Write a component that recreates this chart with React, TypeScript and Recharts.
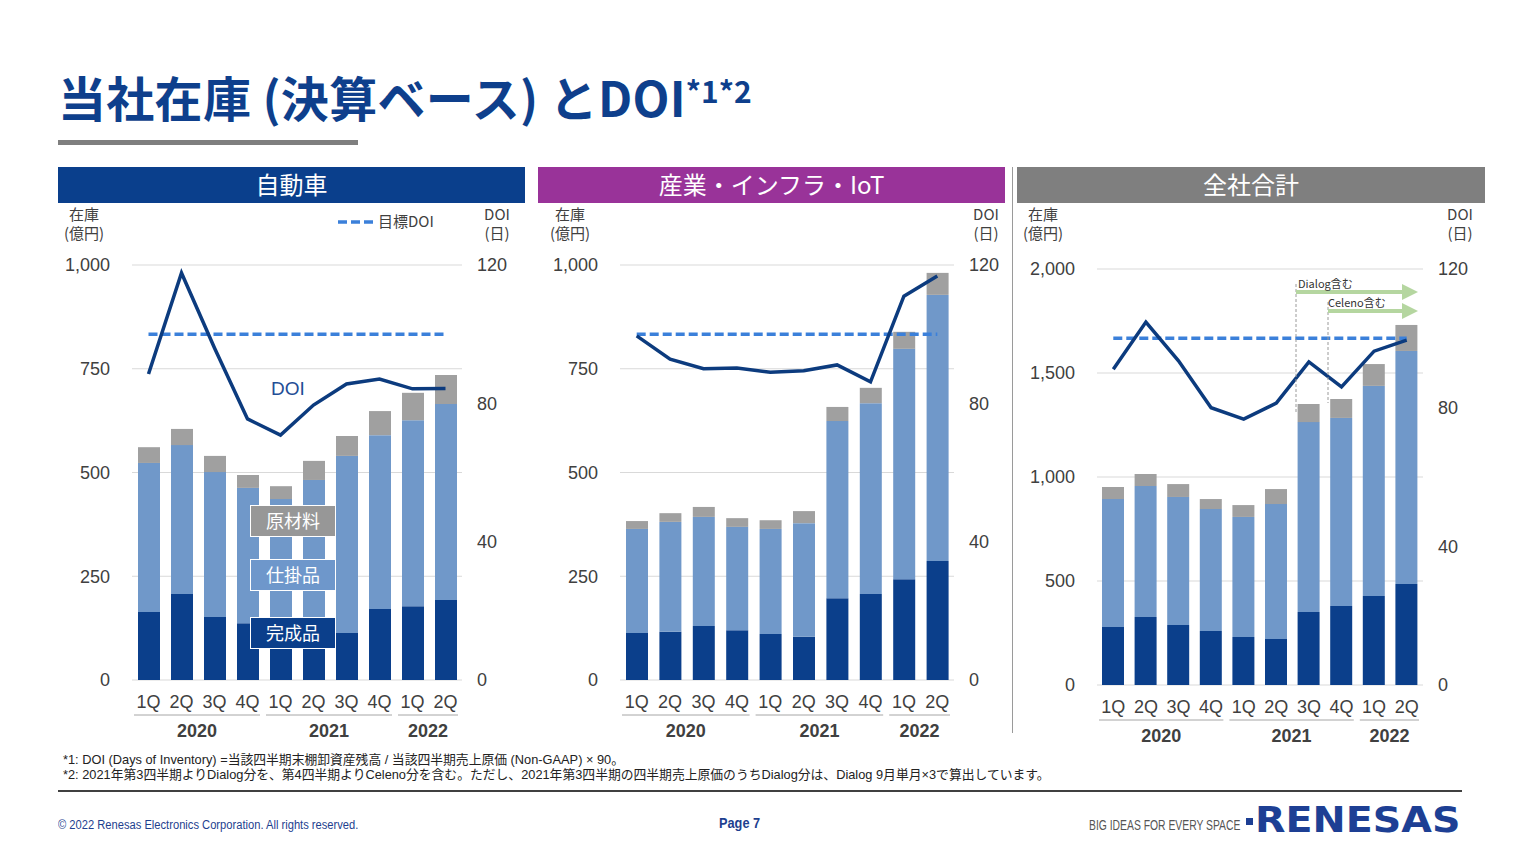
import React from 'react';
import { ComposedChart, Bar, Line, XAxis, YAxis, CartesianGrid } from 'recharts';

// ---------- data ----------
const quarters = ['1Q', '2Q', '3Q', '4Q', '1Q', '2Q', '3Q', '4Q', '1Q', '2Q'];
const years = ['2020', '2020', '2020', '2020', '2021', '2021', '2021', '2021', '2022', '2022'];
const TARGET_DOI = 100;

const autoFinished = [164, 207, 152, 137, 120, 117, 113, 171, 178, 193];
const autoWip = [359, 359, 349, 326, 316, 365, 427, 419, 448, 472];
const autoRaw = [38, 39, 39, 31, 31, 46, 48, 58, 66, 70];
const autoDoi = [88.5, 117.7, 96, 75.5, 70.8, 79.5, 85.6, 87, 84.2, 84.3];

const indFinished = [113, 116, 130, 120, 111, 104, 197, 207, 243, 287];
const indWip = [251, 265, 263, 249, 253, 274, 427, 460, 555, 641];
const indRaw = [19, 21, 24, 21, 21, 29, 34, 37, 41, 53];
const indDoi = [99.5, 92.8, 90, 90.2, 89, 89.4, 91.1, 86.2, 111, 116.8];

const totFinished = [279, 327, 288, 260, 231, 221, 351, 380, 428, 486];
const totWip = [615, 630, 616, 586, 577, 649, 913, 904, 1010, 1120];
const totRaw = [58, 57, 62, 48, 57, 72, 87, 91, 105, 125];
const totDoi = [91.1, 104.7, 93.5, 80, 76.7, 81.3, 93.2, 86, 96.3, 99.5];

const leftTicks1000 = [0, 250, 500, 750, 1000];
const leftTicks2000 = [0, 500, 1000, 1500, 2000];
const rightTicks = [0, 40, 80, 120];

const build = (fin: number[], wip: number[], raw: number[], doi: number[]) =>
  quarters.map((q, i) => ({
    key: `${years[i]}-${q}`,
    finished: fin[i],
    wip: wip[i],
    raw: raw[i],
    doi: doi[i],
    target: TARGET_DOI,
  }));

// ---------- styles ----------
const C_FIN = '#0b3f8b';
const C_WIP = '#7098c9';
const C_RAW = '#a0a0a0';
const C_DOI = '#0c3b7e';
const C_TGT = '#3b80da';
const TXT = '#404040';
const NUM_FONT = '"Liberation Sans", Arial, sans-serif';
const JP_FONT = '"Noto Sans CJK JP", "Liberation Sans", sans-serif';
const MIX_FONT = '"Liberation Sans", "Noto Sans CJK JP", sans-serif';

const fmt = (v: number) => v.toLocaleString('en-US');

const makeTick = (band: number, qDy: number, lineDy: number, yearDy: number) => (props: any) => {
  const { x, y, index } = props;
  const i = index;
  const yr = years[i];
  const first = i === 0 || years[i - 1] !== yr;
  let group: React.ReactNode = null;
  if (first) {
    let n = 0;
    while (i + n < years.length && years[i + n] === yr) n++;
    const x1 = x - band / 2 + 2;
    const x2 = x - band / 2 + n * band - 4;
    group = (
      <g>
        <line x1={x1} x2={x2} y1={y + lineDy} y2={y + lineDy} stroke="#a6a6a6" strokeWidth={1} />
        <text x={(x1 + x2) / 2} y={y + yearDy} dy="0.35em" textAnchor="middle" fill={TXT}
          fontSize={18} fontWeight="bold" fontFamily={NUM_FONT}>{yr}</text>
      </g>
    );
  }
  return (
    <g>
      <text x={x} y={y + qDy} dy="0.35em" textAnchor="middle" fill={TXT} fontSize={18} fontFamily={NUM_FONT}>
        {quarters[i]}
      </text>
      {group}
    </g>
  );
};

type PanelProps = {
  left: number; top: number; width: number; height: number;
  data: any[]; leftMax: number; leftTicks: number[];
};

const LEFT_W = 82;
const RIGHT_W = 50;
const X_H = 65;

function Panel({ left, top, width, height, data, leftMax, leftTicks }: PanelProps) {
  const plotW = width - LEFT_W - RIGHT_W;
  const band = plotW / data.length;
  return (
    <div style={{ position: 'absolute', left, top }}>
      <ComposedChart width={width} height={height} data={data}
        margin={{ top: 20, right: 0, left: 0, bottom: 10 }}>
        <CartesianGrid yAxisId="l" vertical={false} stroke="#d9d9d9" />
        <XAxis dataKey="key" interval={0} axisLine={false} tickLine={false} tickSize={0} tickMargin={0}
          height={X_H} tick={makeTick(band, 22, 35, 51)} />
        <YAxis yAxisId="l" orientation="left" width={LEFT_W} domain={[0, leftMax]} ticks={leftTicks}
          axisLine={false} tickLine={false} tickSize={0} tickMargin={22} tickFormatter={fmt}
          tick={{ fill: TXT, fontSize: 18, fontFamily: NUM_FONT }} allowDataOverflow />
        <YAxis yAxisId="r" orientation="right" width={RIGHT_W} domain={[0, 120]} ticks={rightTicks}
          axisLine={false} tickLine={false} tickSize={0} tickMargin={15}
          tick={{ fill: TXT, fontSize: 18, fontFamily: NUM_FONT }} allowDataOverflow />
        <Bar yAxisId="l" dataKey="finished" stackId="s" fill={C_FIN} barSize={22} isAnimationActive={false} />
        <Bar yAxisId="l" dataKey="wip" stackId="s" fill={C_WIP} barSize={22} isAnimationActive={false} />
        <Bar yAxisId="l" dataKey="raw" stackId="s" fill={C_RAW} barSize={22} isAnimationActive={false} />
        <Line yAxisId="r" dataKey="target" stroke={C_TGT} strokeWidth={3.5} strokeDasharray="9 4"
          dot={false} activeDot={false} isAnimationActive={false} />
        <Line yAxisId="r" dataKey="doi" type="linear" stroke={C_DOI} strokeWidth={3.5}
          dot={false} activeDot={false} isAnimationActive={false} />
      </ComposedChart>
    </div>
  );
}

const abs = (l: number, t: number, extra: React.CSSProperties = {}): React.CSSProperties => ({
  position: 'absolute', left: l, top: t, ...extra,
});

function Header({ left, width, color, label }: { left: number; width: number; color: string; label: string }) {
  return (
    <div style={abs(left, 167, {
      width, height: 36, background: color, color: '#fff', fontFamily: JP_FONT,
      fontSize: 24, lineHeight: '33px', textAlign: 'center',
    })}>{label}</div>
  );
}

function Units({ cx, top, l1, l2 }: { cx: number; top: number; l1: string; l2: string }) {
  return (
    <div style={abs(cx - 40, top, {
      width: 80, textAlign: 'center', fontFamily: JP_FONT, fontSize: 15, lineHeight: '19px', color: TXT,
    })}>
      <div>{l1}</div>
      <div>{l2}</div>
    </div>
  );
}

function LegendBox({ top, color, label }: { top: number; color: string; label: string }) {
  return (
    <div style={abs(250, top, {
      width: 86, height: 32, boxSizing: 'border-box', background: color, border: '1.5px solid #fff',
      color: '#fff', fontFamily: JP_FONT, fontSize: 18, lineHeight: '29px', textAlign: 'center',
    })}>{label}</div>
  );
}

export default function App() {
  const autoData = build(autoFinished, autoWip, autoRaw, autoDoi);
  const indData = build(indFinished, indWip, indRaw, indDoi);
  const totData = build(totFinished, totWip, totRaw, totDoi);

  const narrow = '"Liberation Sans", Arial, sans-serif';
  const noteStyle: React.CSSProperties = {
    fontFamily: MIX_FONT, fontSize: 12.8, lineHeight: '14px', color: '#222', whiteSpace: 'nowrap',
  };

  return (
    <div style={{ position: 'absolute', left: 0, top: 0, width: 1521, height: 855, background: '#fff', overflow: 'hidden' }}>
      {/* Title */}
      <div style={abs(58, 66, {
        fontFamily: JP_FONT, fontWeight: 'bold', fontSize: 48, lineHeight: '60px', color: '#0e3f8c',
        whiteSpace: 'nowrap', letterSpacing: 0.3,
      })}>
        当社在庫 (決算ベース) とDOI<span style={{ fontSize: 30, verticalAlign: 'top', position: 'relative', top: -6, letterSpacing: 0 }}>*1*2</span>
      </div>
      <div style={abs(58, 140, { width: 300, height: 5, background: '#7f7f7f' })} />

      {/* Headers */}
      <Header left={58} width={467} color="#0a3f8c" label="自動車" />
      <Header left={538} width={467} color="#993399" label="産業・インフラ・IoT" />
      <Header left={1017} width={468} color="#7f7f7f" label="全社合計" />

      {/* separator */}
      <div style={abs(1012, 167, { width: 1, height: 566, background: '#9a9a9a' })} />

      {/* Units */}
      <Units cx={84} top={204} l1="在庫" l2="(億円)" />
      <Units cx={497} top={204} l1="DOI" l2="(日)" />
      <Units cx={570} top={204} l1="在庫" l2="(億円)" />
      <Units cx={986} top={204} l1="DOI" l2="(日)" />
      <Units cx={1043} top={204} l1="在庫" l2="(億円)" />
      <Units cx={1460} top={204} l1="DOI" l2="(日)" />

      {/* Target legend */}
      <svg style={abs(336, 214)} width={40} height={16}>
        <line x1={2} x2={38} y1={8} y2={8} stroke={C_TGT} strokeWidth={3.5} strokeDasharray="9 4" />
      </svg>
      <div style={abs(378, 211, { fontFamily: JP_FONT, fontSize: 15, lineHeight: '20px', color: TXT })}>目標DOI</div>

      {/* Charts */}
      <Panel left={50} top={245} width={462} height={510} data={autoData} leftMax={1000} leftTicks={leftTicks1000} />
      <Panel left={538} top={245} width={466} height={510} data={indData} leftMax={1000} leftTicks={leftTicks1000} />
      <Panel left={1015} top={249} width={458} height={511} data={totData} leftMax={2000} leftTicks={leftTicks2000} />

      {/* DOI label */}
      <div style={abs(271, 377, { fontFamily: NUM_FONT, fontSize: 19, lineHeight: '24px', color: '#1f4e96' })}>DOI</div>

      {/* Legend boxes */}
      <LegendBox top={505} color="#979797" label="原材料" />
      <LegendBox top={559} color="#6e97cb" label="仕掛品" />
      <LegendBox top={617} color={C_FIN} label="完成品" />

      {/* Dialog / Celeno annotations */}
      <svg style={abs(1280, 270)} width={160} height={150}>
        <defs>
          <marker id="ah" markerWidth="4" markerHeight="4" refX="2" refY="2" orient="auto" markerUnits="strokeWidth">
            <path d="M0,0 L4,2 L0,4 Z" fill="#b5d6a0" />
          </marker>
        </defs>
        <line x1={16} x2={16} y1={14} y2={142} stroke="#9a9a9a" strokeWidth={1} strokeDasharray="3 2" />
        <line x1={48} x2={48} y1={32} y2={133} stroke="#9a9a9a" strokeWidth={1} strokeDasharray="3 2" />
        <line x1={16} x2={130} y1={22} y2={22} stroke="#b5d6a0" strokeWidth={4} markerEnd="url(#ah)" />
        <line x1={48} x2={130} y1={41} y2={41} stroke="#b5d6a0" strokeWidth={4} markerEnd="url(#ah)" />
        <text x={18} y={18} fontSize={11} fill="#333" fontFamily={JP_FONT}>Dialog含む</text>
        <text x={48} y={37} fontSize={11} fill="#333" fontFamily={JP_FONT}>Celeno含む</text>
      </svg>

      {/* Footnotes */}
      <div style={abs(63, 753, noteStyle)}>*1: DOI (Days of Inventory) =当該四半期末棚卸資産残高 / 当該四半期売上原価 (Non-GAAP) × 90。</div>
      <div style={abs(63, 768, noteStyle)}>*2: 2021年第3四半期よりDialog分を、第4四半期よりCeleno分を含む。ただし、2021年第3四半期の四半期売上原価のうちDialog分は、Dialog 9月単月×3で算出しています。</div>
      <div style={abs(58, 790, { width: 1404, height: 1.5, background: '#404040' })} />

      {/* Footer */}
      <div style={abs(58, 817, {
        fontFamily: narrow, fontSize: 12, lineHeight: '16px',
        color: '#1e3f8f', whiteSpace: 'nowrap', transform: 'scaleX(0.93)', transformOrigin: 'left top',
      })}>© 2022 Renesas Electronics Corporation. All rights reserved.</div>
      <div style={abs(719, 814, {
        fontFamily: narrow, fontSize: 15, fontWeight: 'bold',
        lineHeight: '18px', color: '#1e3f8f', whiteSpace: 'nowrap', transform: 'scaleX(0.85)', transformOrigin: 'left top',
      })}>Page 7</div>
      <div style={abs(1089, 817, {
        fontFamily: narrow, fontSize: 14, lineHeight: '17px',
        color: '#555', whiteSpace: 'nowrap', transform: 'scaleX(0.74)', transformOrigin: 'left top',
      })}>BIG IDEAS FOR EVERY SPACE</div>
      <div style={abs(1246, 818, { width: 7, height: 7, background: '#1d3f94' })} />
      <div style={abs(1255, 801, {
        fontFamily: '"DejaVu Sans", sans-serif', fontSize: 36, lineHeight: '38px', fontWeight: 'bold',
        color: '#1d3f94', whiteSpace: 'nowrap', transform: 'scaleX(1.1)', transformOrigin: 'left top', letterSpacing: 0,
      })}>RENESAS</div>
    </div>
  );
}
